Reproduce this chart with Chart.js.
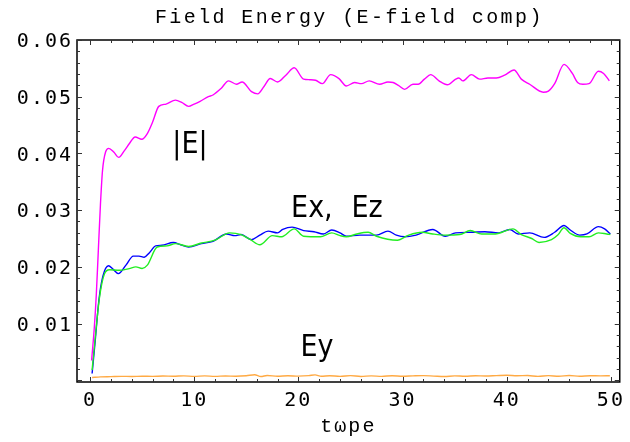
<!DOCTYPE html>
<html>
<head>
<meta charset="utf-8">
<script src="https://cdn.jsdelivr.net/npm/chart.js@4.4.1/dist/chart.umd.min.js"></script>
<style>
  html, body { margin: 0; padding: 0; background: #fff; }
</style>
</head>
<body>
<canvas id="chart" width="630" height="442"></canvas>
<script>
// |E| (magenta)
const magT = [0.15, 0.4, 0.6, 0.8, 1.0, 1.2, 1.5, 1.8, 2.3, 2.75, 3.3, 3.8, 4.33, 4.97, 5.5, 6.0, 6.6, 7.3, 8.2, 8.8,
  9.46, 10.0, 10.57, 11.36, 11.8, 12.6, 13.3, 14.05, 14.6, 15.5, 16.1, 16.7, 17.3, 18.0, 18.8, 19.6, 20.5, 21.1, 21.65, 22.3,
  23.1, 23.9, 24.6, 25.4, 26.05, 26.8, 27.8, 28.6, 29.1, 29.6, 30.2, 31.0, 31.5, 32.1, 32.7, 33.5, 34.3, 35.1, 35.4, 35.8,
  36.6, 37.4, 38.2, 39.0, 39.8, 40.7, 41.4, 42.2, 43.5, 44.0, 44.6, 45.5, 46.3, 46.8, 47.3, 47.9, 48.8, 49.3, 49.85];
const magV = [0.0035, 0.009, 0.015, 0.023, 0.031, 0.037, 0.0403, 0.0409, 0.0402, 0.0393, 0.0405, 0.0418, 0.0429, 0.0425, 0.0435, 0.0455, 0.0483, 0.0487, 0.0494, 0.049,
  0.0483, 0.0487, 0.0492, 0.05, 0.0503, 0.0515, 0.0528, 0.0522, 0.0526, 0.0509, 0.0505, 0.0518, 0.0532, 0.0526, 0.0538, 0.0551, 0.0531, 0.053, 0.0529, 0.0523,
  0.0539, 0.0532, 0.0519, 0.0525, 0.0523, 0.0528, 0.0522, 0.0526, 0.0525, 0.052, 0.0513, 0.0522, 0.0522, 0.0531, 0.0539, 0.0528, 0.0521, 0.0531, 0.0533, 0.0528,
  0.0539, 0.0531, 0.0533, 0.0533, 0.0538, 0.0547, 0.0531, 0.0522, 0.0508, 0.051, 0.0523, 0.0557, 0.0541, 0.0525, 0.0522, 0.0523, 0.0545, 0.0541, 0.0528];

// Ex (green)
const exT = [0.2, 0.5, 0.9, 1.39, 1.86, 2.8, 3.76, 4.4, 5.0, 5.5, 6.45, 7.4, 8.2, 9.46, 10.7, 12.0, 13.4, 14.5, 15.4, 16.3,
  17.5, 18.4, 19.6, 20.5, 22.1, 23.2, 24.0, 24.6, 25.6, 26.7, 27.5, 29.5, 30.6, 31.9, 32.9, 34.1, 35.5, 36.5, 37.6, 38.9,
  40.6, 41.4, 42.4, 43.1, 44.3, 44.9, 45.5, 46.1, 47.1, 47.9, 48.8, 49.6, 49.95];
const exV = [0.0018, 0.0075, 0.0145, 0.0188, 0.0195, 0.0194, 0.0197, 0.02, 0.0197, 0.0203, 0.0235, 0.0237, 0.0241, 0.0236, 0.0242, 0.0247, 0.026, 0.0257, 0.0248, 0.0239,
  0.0255, 0.0253, 0.0267, 0.0254, 0.0253, 0.026, 0.0255, 0.0253, 0.0258, 0.0261, 0.0254, 0.0247, 0.0256, 0.0261, 0.0258, 0.0256, 0.0257, 0.0264, 0.0258, 0.0258,
  0.0267, 0.0257, 0.025, 0.0243, 0.0248, 0.0256, 0.0269, 0.0259, 0.0253, 0.0253, 0.026, 0.0258, 0.0257];

// Ez (blue)
const ezT = [0.2, 0.5, 0.85, 1.23, 1.77, 2.2, 2.72, 3.45, 4.15, 4.7, 5.2, 5.7, 6.3, 6.9, 8.0, 8.7, 9.46, 10.7, 11.8, 13.1,
  13.9, 14.5, 15.5, 16.3, 17.1, 18.0, 18.5, 19.4, 20.5, 21.5, 22.4, 23.2, 24.0, 24.6, 25.9, 27.5, 28.6, 29.4, 30.2, 31.3,
  32.9, 34.1, 35.1, 36.6, 37.9, 39.2, 40.3, 41.1, 42.2, 43.6, 44.6, 45.5, 46.1, 47.0, 47.7, 48.8, 49.4, 49.95];
const ezV = [0.0012, 0.007, 0.0141, 0.0183, 0.0202, 0.0196, 0.0188, 0.0203, 0.0219, 0.0219, 0.0217, 0.0225, 0.0237, 0.0238, 0.0243, 0.0239, 0.0235, 0.0241, 0.0245, 0.0258,
  0.0255, 0.0257, 0.0248, 0.0256, 0.0263, 0.026, 0.0266, 0.027, 0.0264, 0.0262, 0.0258, 0.0265, 0.026, 0.0254, 0.0256, 0.0256, 0.0263, 0.0256, 0.0253, 0.0256,
  0.0266, 0.0254, 0.026, 0.0261, 0.0262, 0.026, 0.0266, 0.0258, 0.026, 0.0252, 0.0261, 0.0273, 0.0265, 0.0256, 0.0258, 0.0271, 0.0267, 0.0258];

// Ey (orange)
const eyT = [0.2, 1, 2, 3, 4, 5, 6, 7, 8, 9, 10, 11, 12, 13, 14, 15, 15.8, 16.4, 17, 18,
  19, 20, 21, 21.6, 22.2, 23, 24, 25, 26, 27, 28, 29, 30, 31, 32, 33, 34, 35, 36, 37,
  38, 39, 40, 41, 42, 43, 44, 45, 46, 47, 48, 49, 49.9];
const eyV = [0.0005, 0.0006, 0.00065, 0.0007, 0.00068, 0.00072, 0.0007, 0.00075, 0.00072, 0.00078, 0.0007, 0.00078, 0.0007, 0.00076, 0.00072, 0.0008, 0.00098, 0.00066, 0.00085, 0.00072,
  0.0008, 0.00074, 0.00082, 0.00095, 0.00072, 0.0008, 0.0007, 0.00082, 0.00068, 0.00078, 0.0007, 0.0008, 0.00072, 0.00078, 0.00082, 0.00074, 0.00066, 0.00078, 0.00072, 0.0008,
  0.00076, 0.00082, 0.00088, 0.0008, 0.00084, 0.0007, 0.00082, 0.00072, 0.00084, 0.00072, 0.0008, 0.00078, 0.0008];

const xTickVals = [0, 10, 20, 30, 40, 50];
const yTickVals = [0.01, 0.02, 0.03, 0.04, 0.05, 0.06];

// text labels inside the plot, in data coordinates (left edge, baseline)
const noteText = ['|E|', 'Ex,', 'Ez', 'Ey'];
const noteX = [7.9, 19.3, 25.1, 20.2];
const noteY = [0.0400, 0.0288, 0.0288, 0.0043];

const titleText = 'Field Energy (E-field comp)';

function pts(ts, vs) {
  return ts.map((t, i) => ({ x: t, y: vs[i] }));
}

function line(label, ts, vs, color) {
  return {
    label: label,
    data: pts(ts, vs),
    borderColor: color,
    backgroundColor: color,
    borderWidth: 1.4,
    pointRadius: 0,
    cubicInterpolationMode: 'monotone',
    fill: false,
  };
}

const framePlugin = {
  id: 'frame',
  beforeDraw(chart) {
    chart.ctx.letterSpacing = '2px';
  },
  afterDraw(chart) {
    const ctx = chart.ctx;
    const a = chart.chartArea;
    const xs = chart.scales.x, ys = chart.scales.y;
    ctx.save();
    ctx.strokeStyle = '#000';
    ctx.lineWidth = 1.5;
    ctx.strokeRect(a.left, a.top, a.right - a.left, a.bottom - a.top);

    ctx.lineWidth = 1;
    ctx.strokeStyle = '#333';
    ctx.beginPath();
    for (let v = 0; v <= 50; v += 2) {
      const px = Math.round(xs.getPixelForValue(v)) + 0.5;
      const len = v % 10 === 0 ? 5 : 3;
      ctx.moveTo(px, a.bottom); ctx.lineTo(px, a.bottom - len);
      ctx.moveTo(px, a.top); ctx.lineTo(px, a.top + len);
    }
    for (let k = 0; k <= 30; k++) {
      const v = k * 0.002;
      const py = Math.round(ys.getPixelForValue(v)) + 0.5;
      const len = k % 5 === 0 ? 5 : 3;
      ctx.moveTo(a.left, py); ctx.lineTo(a.left + len, py);
      ctx.moveTo(a.right, py); ctx.lineTo(a.right - len, py);
    }
    ctx.stroke();

    // annotations
    ctx.letterSpacing = '0px';
    ctx.fillStyle = '#000';
    ctx.font = '30px "Liberation Sans Narrow", "DejaVu Sans Condensed", sans-serif';
    ctx.textAlign = 'left';
    ctx.textBaseline = 'alphabetic';
    noteText.forEach((s, i) => {
      ctx.fillText(s, xs.getPixelForValue(noteX[i]), ys.getPixelForValue(noteY[i]));
    });

    // title
    ctx.letterSpacing = '2.4px';
    ctx.font = '20px "Liberation Mono", monospace';
    ctx.textAlign = 'center';
    ctx.textBaseline = 'middle';
    ctx.fillText(titleText, (a.left + a.right) / 2 + 1, 18);
    ctx.restore();
    ctx.letterSpacing = '0px';
  }
};

new Chart(document.getElementById('chart'), {
  type: 'line',
  data: {
    datasets: [
      line('|E|', magT, magV, '#ff00ff'),
      line('Ex', exT, exV, '#22ee22'),
      line('Ez', ezT, ezV, '#0000ff'),
      line('Ey', eyT, eyV, '#ffaa44'),
    ],
  },
  options: {
    responsive: false,
    devicePixelRatio: 1,
    animation: false,
    layout: { padding: { left: 0, top: 40, right: 4, bottom: 0 } },
    plugins: {
      legend: { display: false },
      title: { display: false },
      tooltip: { enabled: false },
    },
    scales: {
      x: {
        type: 'linear',
        min: -1.25,
        max: 50.85,
        grid: { display: false, drawTicks: false },
        border: { display: false },
        afterBuildTicks: (s) => { s.ticks = xTickVals.map(v => ({ value: v })); },
        afterFit: (s) => { s.height = 60; },
        ticks: {
          padding: 7,
          color: '#000',
          font: { family: 'DejaVu Sans Mono', size: 20 },
          maxRotation: 0,
          callback: (v) => String(v),
        },
        title: {
          display: true,
          text: 'tωpe',
          color: '#000',
          font: { family: 'Liberation Mono', size: 20 },
          padding: { top: 0, bottom: 3 },
        },
      },
      y: {
        min: -0.0003,
        max: 0.06,
        grid: { display: false, drawTicks: false },
        border: { display: false },
        afterBuildTicks: (s) => { s.ticks = yTickVals.map(v => ({ value: v })); },
        afterFit: (s) => { s.width = 77; },
        ticks: {
          padding: 4,
          labelOffset: 2,
          color: '#000',
          font: { family: 'DejaVu Sans Mono', size: 20 },
          callback: (v) => v.toFixed(2),
        },
      },
    },
  },
  plugins: [framePlugin],
});
</script>
</body>
</html>
